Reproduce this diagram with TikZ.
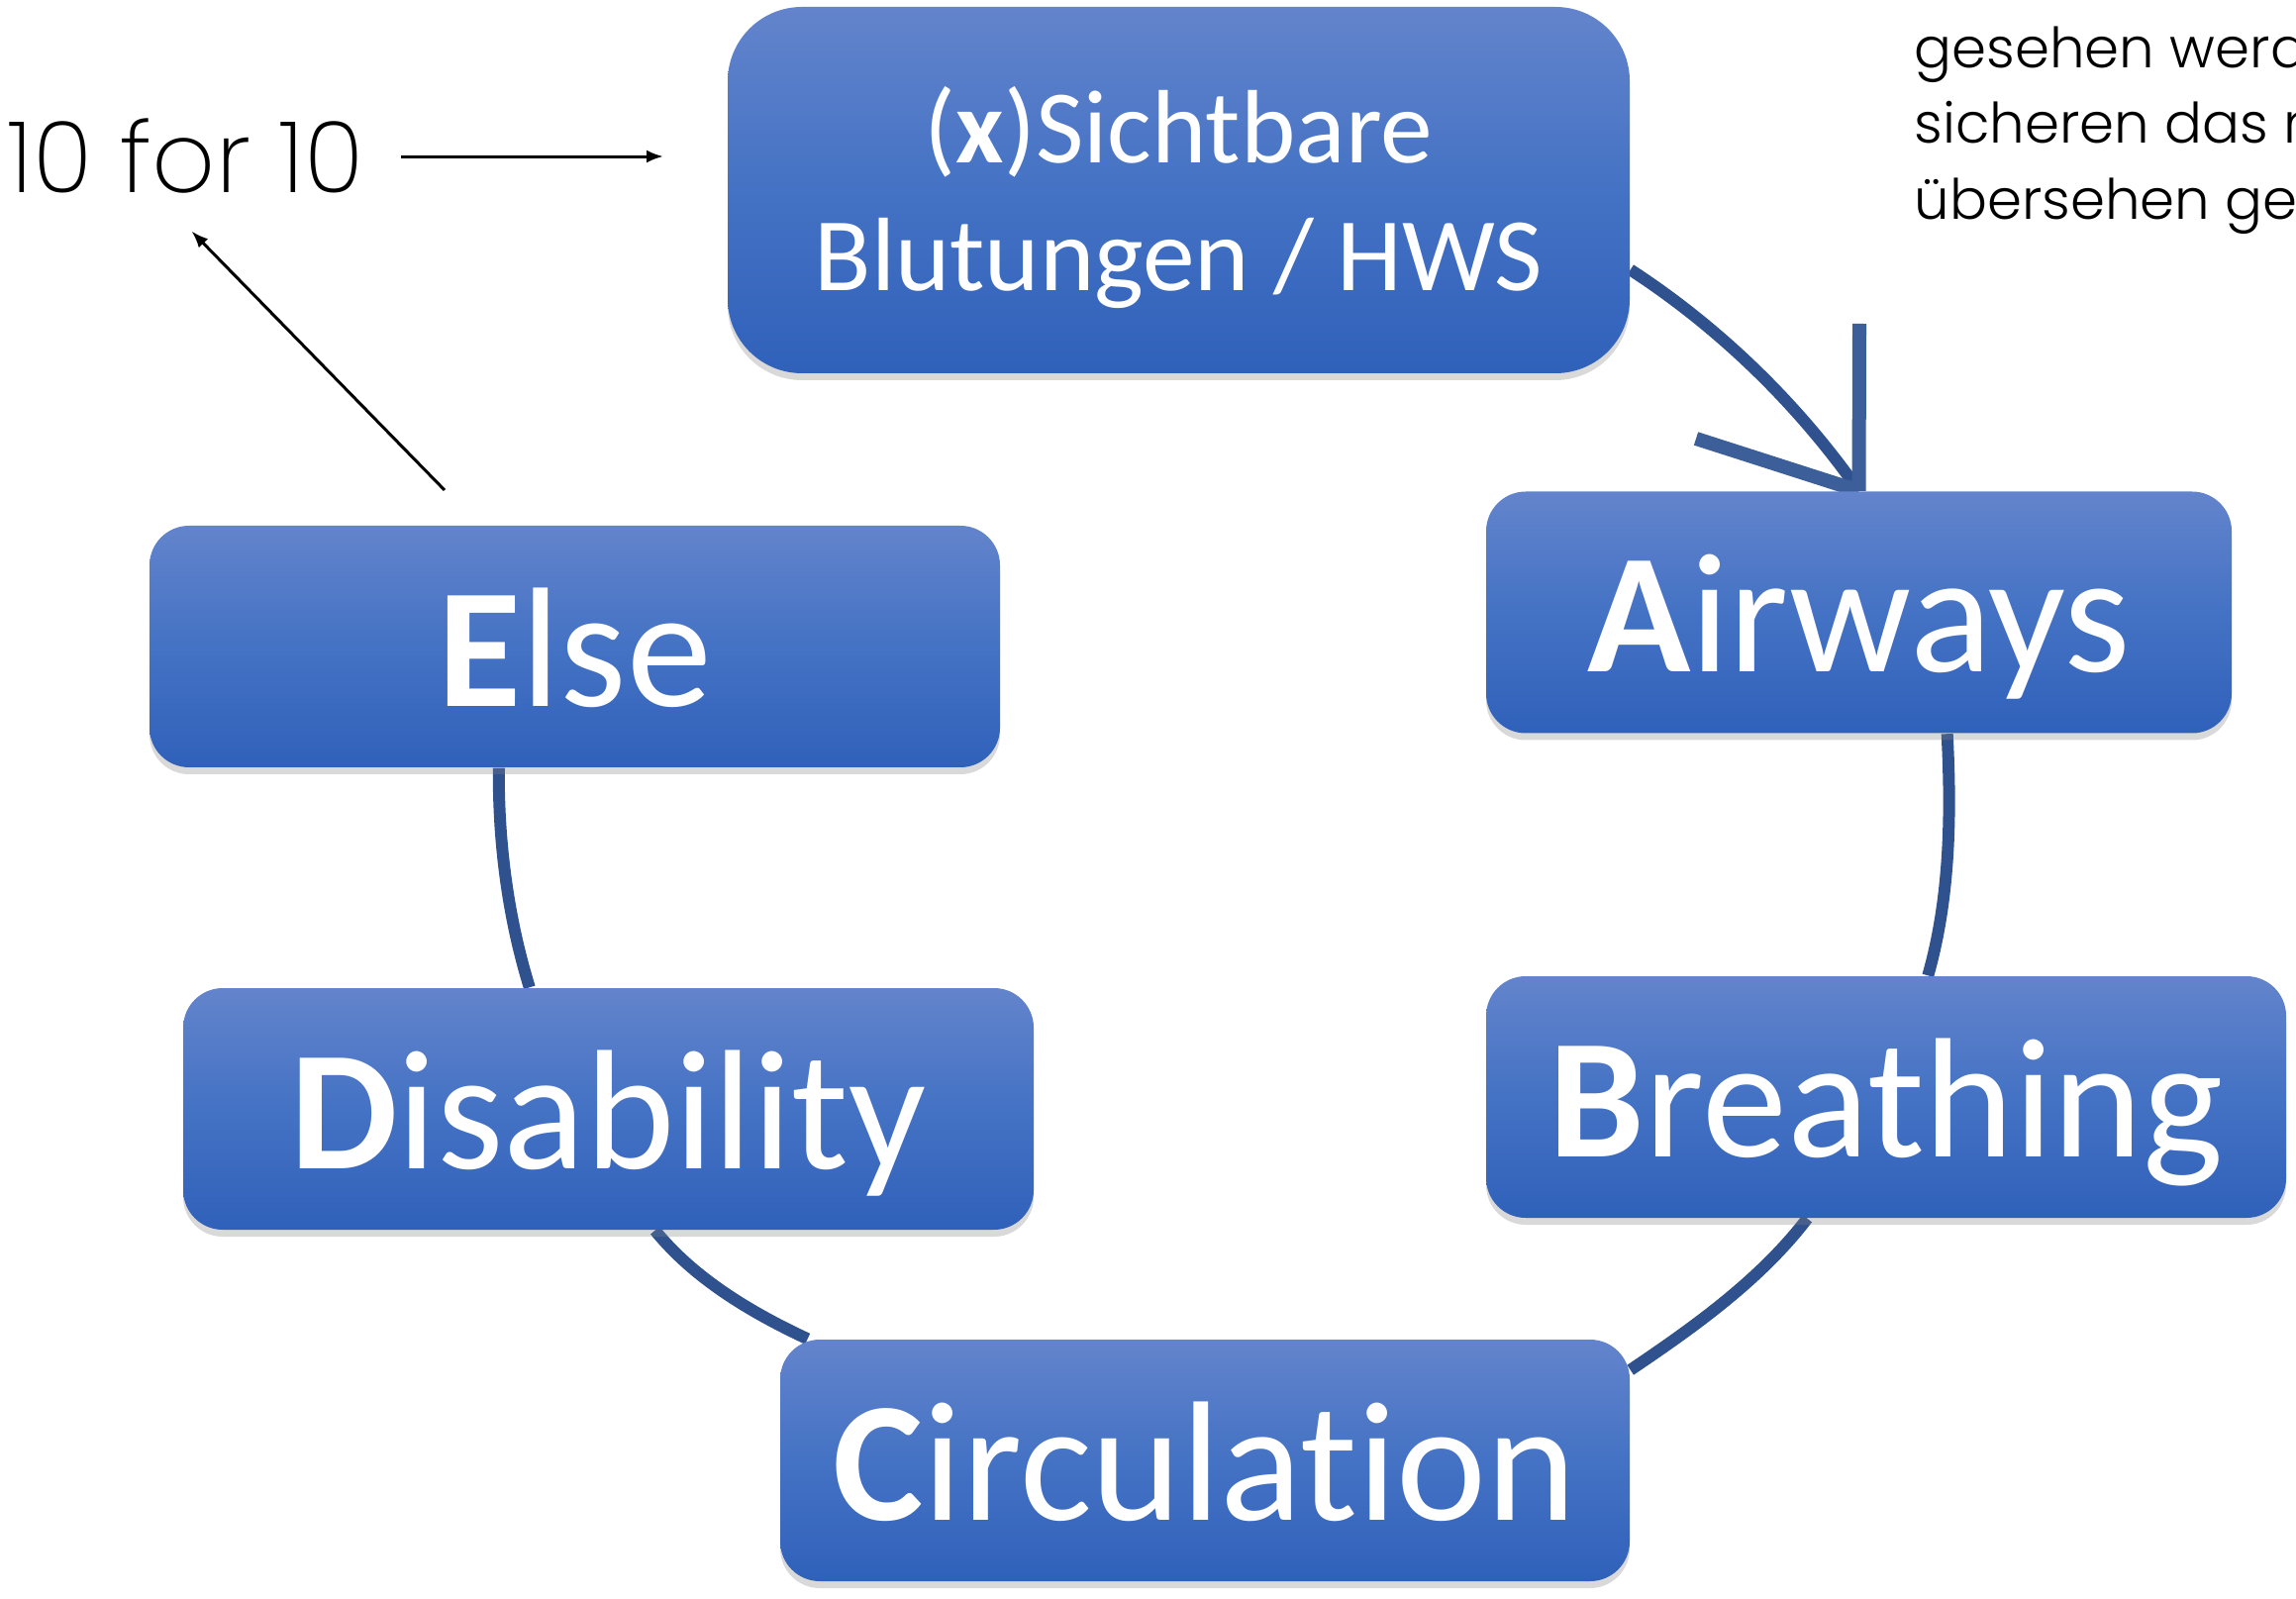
\documentclass[tikz,border=0pt]{standalone}
\usepackage{fontspec}
\setmainfont{Carlito}[Ligatures=NoCommon]
\newfontfamily\gothic{Poppins Light}
\newfontfamily\gothicthin{Poppins ExtraLight}
\usetikzlibrary{arrows.meta,shadows,backgrounds}

\definecolor{boxtop}{HTML}{6384CC}
\definecolor{boxmid}{HTML}{4472C4}
\definecolor{boxbot}{HTML}{3061BA}
\definecolor{ringblue}{HTML}{2F528F}
\definecolor{headblue}{HTML}{3D5F99}

\tikzset{
  boxfill/.style={draw=none, top color=boxtop, bottom color=boxbot, middle color=boxmid,
    text=white, inner sep=0pt,
    drop shadow={shadow xshift=0pt, shadow yshift=-0.07cm, opacity=0.3}},
  stage/.style={boxfill, rounded corners=0.4cm, minimum height=2.44cm,
    text height=34.4pt, text depth=0pt, font=\fontsize{49}{55}\selectfont},
  ring/.style={draw=ringblue, line width=0.12cm, looseness=0.85},
  openhead/.style={draw=headblue, line width=0.14cm},
  pointer/.style={draw=black, line width=0.03cm, -{Latex[length=0.17cm,width=0.13cm]}}
}

\begin{document}
\begin{tikzpicture}
%%   kw   (name)   (x, y)   {text}
    \path[use as bounding box, clip] (0,0) rectangle (23.19,-16.15);

    \node[boxfill, rounded corners=0.75cm, minimum width=9.11cm, minimum height=3.70cm,
      font=\fontsize{30}{36.7}\selectfont] (sicht) at (11.905,-1.92)
      {\raisebox{0.27cm}[0pt][0pt]{\parbox[t]{9cm}{\centering(\textbf{x})Sichtbare\\Blutungen / HWS}}};
    \node[stage, minimum width=7.53cm] (airways) at (18.775,-6.185) {\textbf{A}irways};
    \node[stage, minimum width=8.08cm] (breathing) at (19.05,-11.08) {\textbf{B}reathing};
    \node[stage, minimum width=8.58cm] (circulation) at (12.17,-14.75) {\textbf{C}irculation};
    \node[stage, minimum width=8.59cm] (disability) at (6.145,-11.20) {\textbf{D}isability};
    \node[stage, minimum width=8.59cm] (else) at (5.805,-6.53) {\textbf{E}lse};

    \node[anchor=base, inner sep=0.37cm, font=\gothicthin\fontsize{28.4}{33}\selectfont] (ten) at (1.875,-1.95) {10 for 10};
    \node[anchor=north west, inner sep=0pt, align=left, font=\gothic\fontsize{16}{21.8}\selectfont] (note) at (19.33,-0.26)
      {gesehen werd\\sicheren das n\\übersehen ge};

    \coordinate (tenend) at (6.70,-1.62);
    \coordinate (elsefree) at (4.49,-4.95);
    \coordinate (headA) at (18.78,-3.27);
    \coordinate (headB) at (17.13,-4.43);

    \draw[pointer] (ten.east) -- (ten.east -| tenend);
    \draw[pointer] (elsefree) -- ([xshift=0.06cm]ten.south);

    \begin{scope}[on background layer]
    \draw[ring] (sicht.-10.3) to[out=-33, in=125] (airways.north);
    \draw[openhead] (headA) -- (airways.north);
    \draw[openhead] (headB) -- (airways.north);
    \draw[ring] (airways.-54.5) to[out=-87, in=74] (breathing.71.4);
    \draw[ring] (breathing.-123.6) to[out=-127.4, in=34] (circulation.12.2);
    \draw[ring] (circulation.163.3) to[out=155, in=-51] (disability.-69.1);
    \draw[ring] (disability.123.1) to[out=107.2, in=-90.5] (else.-122.4);
    \end{scope}
\end{tikzpicture}
\end{document}
